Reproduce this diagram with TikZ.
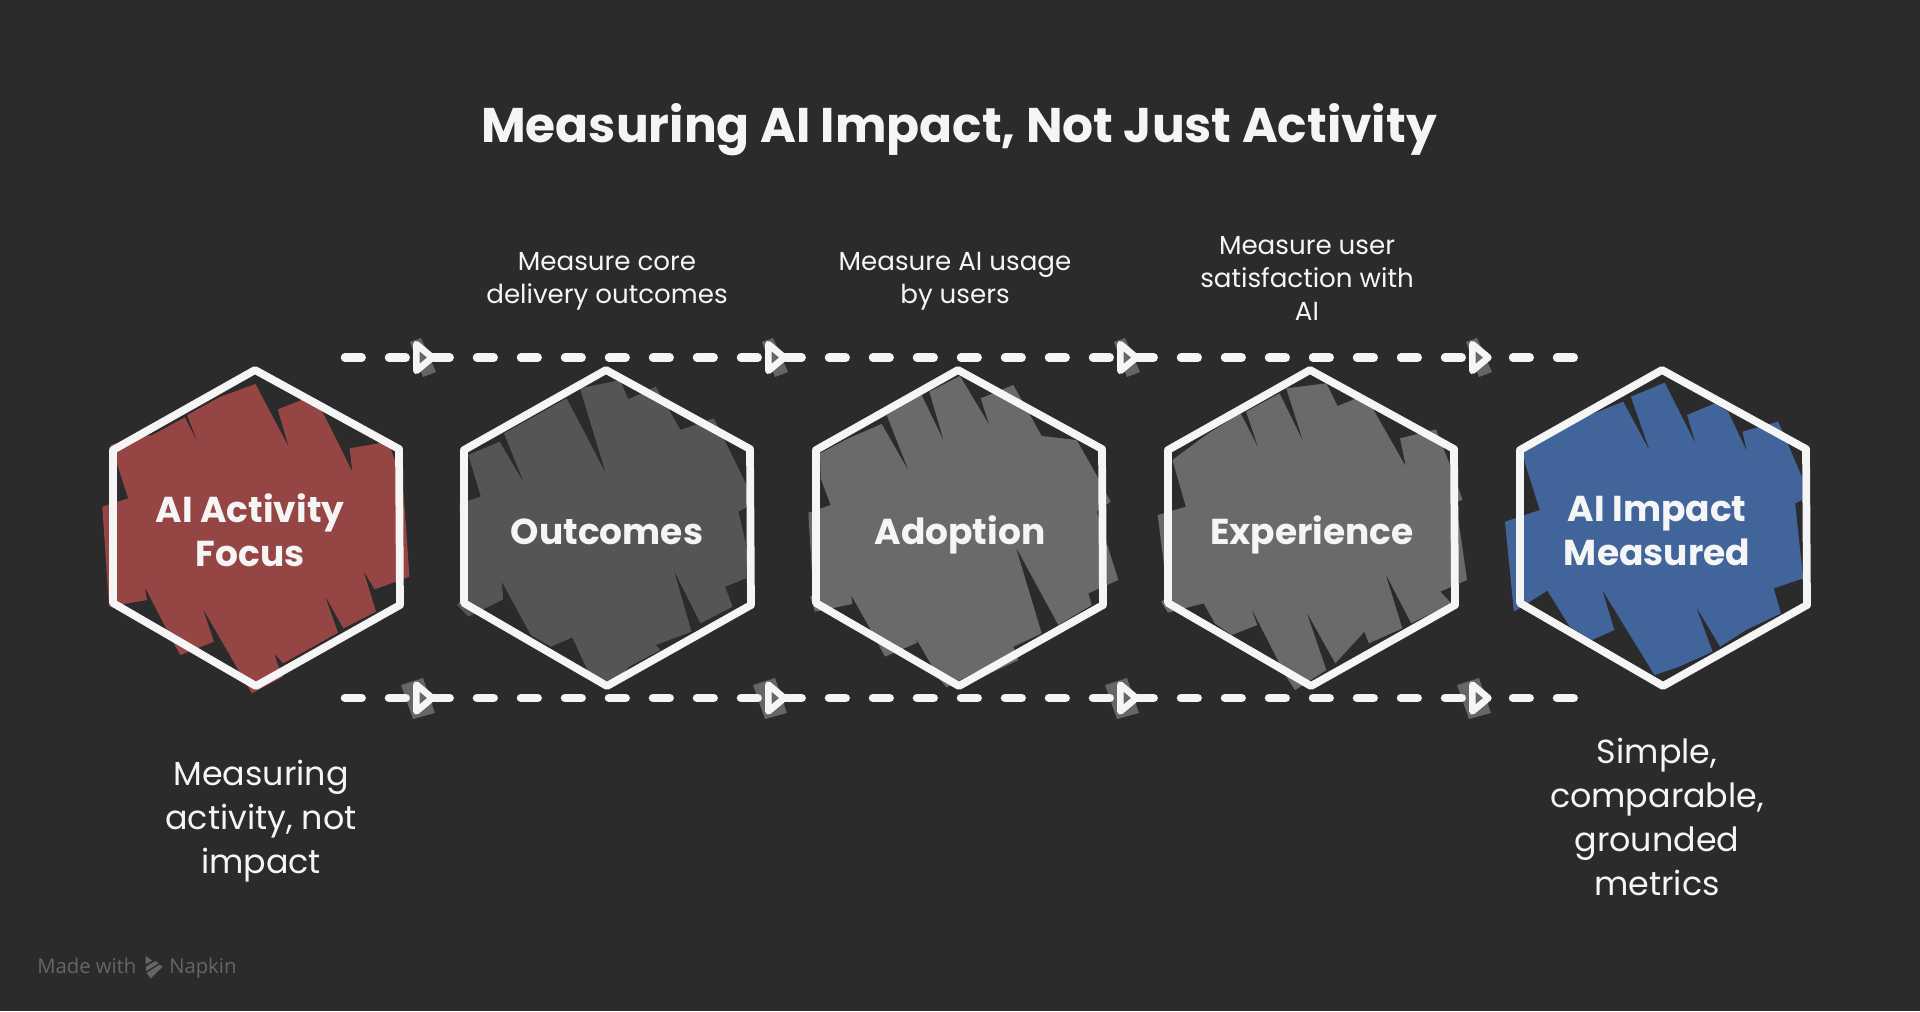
\documentclass[tikz,border=0pt]{standalone}
\usepackage{fontspec}
\setmainfont{Poppins}
\newfontfamily\wmfont{Open Sans}
\usetikzlibrary{shapes.geometric,calc}
\definecolor{bgc}{HTML}{2B2B2B}
\definecolor{inkc}{HTML}{F5F5F5}
\definecolor{redc}{HTML}{954543}
\definecolor{grayA}{HTML}{555555}
\definecolor{grayB}{HTML}{6A6A6A}
\definecolor{bluec}{HTML}{41649B}
\definecolor{shadec}{HTML}{666666}
\tikzset{
  hexline/.style={draw=inkc,line width=5.8pt,line join=round},
  dashline/.style={draw=inkc,line width=6.4pt,line cap=round,dash pattern=on 12.5pt off 20.5pt},
  tri/.style={isosceles triangle,isosceles triangle stretches,draw=inkc,fill=shadec,line width=5pt,line join=round,inner sep=0pt,minimum height=12pt,minimum width=20pt,anchor=west},
  titletext/.style={text=inkc,font=\fontsize{36.5}{44}\selectfont\bfseries,anchor=base},
  hextext/.style={text=inkc,font=\fontsize{27}{33}\selectfont\bfseries,align=center},
  smalltext/.style={text=inkc,font=\fontsize{19.6}{24.75}\selectfont,align=center},
  bigtext/.style={text=inkc,font=\fontsize{25}{33}\selectfont,align=center},
  wm/.style={text=shadec,font=\wmfont\fontsize{15.2}{18}\selectfont,anchor=base west,inner sep=0pt},
  zoomA/.style={shift={(80,330)},x=0.3348pt,y=-0.25pt},
  zoomB/.style={shift={(1130,330)},x=0.3348pt,y=-0.25pt},
  zoomC/.style={shift={(790,350)},x=0.25pt,y=-0.25pt},
}
\newcommand{\hexpath}[1]{%
  \draw[hexline] ($(#1)+(-1,-172)$) -- ($(#1)+(143,-93)$) -- ($(#1)+(144,63)$) -- ($(#1)+(0,144)$) -- ($(#1)+(-143,61)$) -- ($(#1)+(-143,-92)$) -- cycle;}
\begin{document}
\begin{tikzpicture}[x=.75pt,y=-.75pt]
\useasboundingbox (0,0) rectangle (1920,1011);
\fill[bgc] (0,0) rectangle (1920,1011);

% scribbled fills
\begin{scope}[zoomA]
\fill[redc] (68,345)--(158,315)--(170,358)--(158,318)--(235,262)--(265,342)--(240,255)--(315,200)--(393,162)--(468,352)--(443,238)--(515,200)--(545,250)--(610,425)--(604,355)--(690,335)--(708,400)--(725,490)--(738,740)--(660,778)--(635,722)--(663,845)--(590,895)--(548,795)--(578,908)--(455,1000)--(435,970)--(445,1010)--(455,1040)--(385,1090)--(372,1060)--(275,835)--(300,935)--(225,975)--(212,945)--(145,770)--(150,810)--(65,830)--(50,530)--(108,505)--(85,410)--cycle;
\fill[grayA] (870,375)--(940,335)--(995,460)--(950,310)--(1090,205)--(1178,430)--(1120,175)--(1210,150)--(1228,208)--(1290,170)--(1345,300)--(1420,265)--(1495,470)--(1510,520)--(1475,545)--(1495,660)--(1492,745)--(1445,770)--(1462,830)--(1390,880)--(1330,720)--(1370,905)--(1290,945)--(1300,960)--(1230,1010)--(1195,1060)--(1140,1030)--(1103,922)--(1055,950)--(1010,915)--(945,755)--(948,808)--(870,860)--(845,825)--(860,800)--(850,520)--(898,500)--cycle;
\end{scope}
\begin{scope}[zoomC]
\fill[grayB] (90,310)--(175,265)--(275,222)--(357,365)--(290,195)--(395,135)--(462,275)--(418,125)--(510,78)--(598,225)--(572,145)--(670,105)--(755,258)--(860,270)--(925,385)--(962,455)--(920,485)--(985,690)--(895,730)--(905,765)--(805,825)--(677,590)--(755,850)--(670,890)--(685,930)--(570,985)--(530,885)--(568,960)--(470,1012)--(450,990)--(375,860)--(382,878)--(285,920)--(240,835)--(183,735)--(187,762)--(75,785)--(60,740)--(70,735)--(55,488)--(122,465)--(92,385)--cycle;
\end{scope}
\begin{scope}[zoomB]
\fill[grayB] (95,390)--(170,315)--(185,365)--(170,315)--(248,250)--(288,355)--(260,245)--(335,190)--(388,335)--(350,175)--(440,160)--(465,228)--(525,195)--(550,250)--(618,410)--(605,325)--(685,298)--(720,415)--(745,510)--(730,515)--(755,750)--(695,785)--(720,820)--(630,880)--(572,730)--(610,895)--(535,940)--(525,905)--(460,1000)--(395,845)--(440,1020)--(370,1080)--(350,1040)--(270,830)--(285,885)--(228,915)--(190,880)--(165,820)--(85,848)--(70,815)--(85,800)--(62,555)--(125,530)--cycle;
\fill[bluec] (885,400)--(880,360)--(1030,255)--(1105,215)--(1165,365)--(1122,200)--(1198,158)--(1267,342)--(1248,255)--(1310,220)--(1340,245)--(1382,365)--(1372,305)--(1452,275)--(1505,440)--(1505,510)--(1490,520)--(1508,745)--(1442,775)--(1458,850)--(1380,900)--(1322,950)--(1268,830)--(1305,965)--(1230,1010)--(1175,1035)--(1058,780)--(1085,900)--(1035,930)--(985,890)--(935,782)--(860,845)--(840,575)--(918,540)--cycle;
\end{scope}

% hexagon centres
\coordinate (c1) at (256,542);
\coordinate (c2) at (607,542);
\coordinate (c3) at (959,542);
\coordinate (c4) at (1311,542);
\coordinate (c5) at (1663,542);
\foreach \i in {1,...,5} {\hexpath{c\i}}

% arrow shadows
\foreach \xx in {410,762,1114,1466} {
  \fill[shadec] (\xx,342)--(\xx+11,338)--(\xx+26,372)--(\xx+13,377)--cycle;
  \fill[shadec] (\xx-9,685)--(\xx+13,678)--(\xx+25,713)--(\xx+3,719)--cycle;
}

% dashed connectors
\coordinate (ts) at (345,357.5);
\coordinate (tm) at (1470,357.5);
\coordinate (tn) at (1513,357.5);
\coordinate (te) at (1575,357.5);
\coordinate (bs) at (345,698);
\coordinate (bm) at (1470,698);
\coordinate (bn) at (1513,698);
\coordinate (be) at (1575,698);
\draw[dashline] (ts) -- (tm);
\draw[dashline] (tn) -- (te);
\draw[dashline] (bs) -- (bm);
\draw[dashline] (bn) -- (be);
\foreach \i/\xx in {1/413,2/765,3/1117,4/1469} {
  \node[tri] (ta\i) at (\xx,357.5) {};
  \node[tri] (ba\i) at (\xx,698) {};
}

% texts
\node[titletext] (title) at (959,142) {Measuring AI Impact, Not Just Activity};
\node[smalltext] (l2) at (607,281) {Measure core\\delivery outcomes};
\node[smalltext] (l3) at (955,281) {Measure AI usage\\by users};
\node[smalltext] (l4) at (1307,278) {Measure user\\satisfaction with\\AI};
\node[hextext] (n1) at (250,530) {AI Activity\\Focus};
\node[hextext] (n2) at (607,532) {Outcomes};
\node[hextext] (n3) at (960,535) {Adoption};
\node[hextext] (n4) at (1312,535) {Experience};
\node[hextext] (n5) at (1657,531) {AI Impact\\Measured};
\node[bigtext] (b1) at (261,821) {Measuring\\activity, not\\impact};
\node[bigtext] (b5) at (1657,817) {Simple,\\comparable,\\grounded\\metrics};

% watermark
\node[wm] (w1) at (37,973) {Made with};
\node[wm] (w2) at (169,973) {Napkin};
\begin{scope}[shift={(0,930)},x=.25pt,y=-.25pt]
\fill[shadec] (437,78)--(456,92)--(437,103)--cycle;
\fill[shadec] (438,110)--(466,93)--(476,100)--(438,124)--cycle;
\fill[shadec] (440,129)--(478,104)--(488,110)--(452,145)--cycle;
\end{scope}
\end{tikzpicture}
\end{document}
